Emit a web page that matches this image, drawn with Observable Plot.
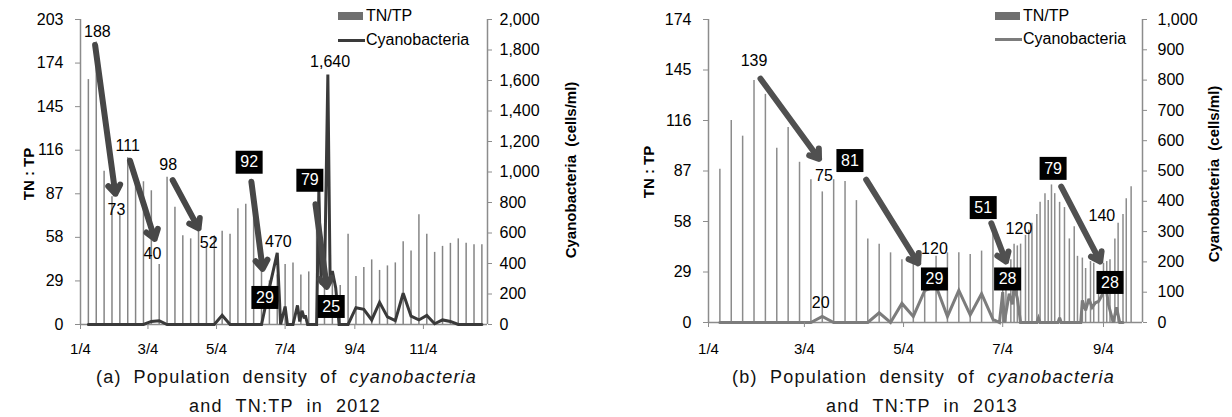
<!DOCTYPE html>
<html><head><meta charset="utf-8">
<script src="https://cdn.jsdelivr.net/npm/d3@7"></script>
<script src="https://cdn.jsdelivr.net/npm/@observablehq/plot@0.6"></script>
<style>
body{margin:0;background:#fff;font-family:"Liberation Sans",Arial,sans-serif;}
#wrap{position:relative;width:1232px;height:417px;overflow:hidden;background:#fff;}
.panel{position:absolute;top:0;}
.ttl{position:absolute;font-weight:bold;font-size:15px;white-space:pre;transform:translate(-50%,-50%) rotate(-90deg);color:#000;}
.leg{position:absolute;font-size:16px;line-height:16px;white-space:nowrap;transform:translateY(-50%);color:#000;}
.sw{position:absolute;}
.cap{position:absolute;font-size:18px;color:#111;white-space:nowrap;letter-spacing:1.2px;}
.cap1{text-align:justify;text-align-last:justify;}
.cap2{text-align:center;word-spacing:7px;}
</style></head><body><div id="wrap"></div>
<script>
// ---------- 2012 ----------
const dates2012 = ["2012-01-11","2012-01-18","2012-01-25","2012-02-01","2012-02-08","2012-02-15","2012-02-22","2012-02-29",
"2012-03-07","2012-03-14","2012-03-21","2012-03-28","2012-04-04","2012-04-11","2012-04-18","2012-04-25",
"2012-05-02","2012-05-09","2012-05-16","2012-05-23","2012-05-30","2012-06-06","2012-06-13","2012-06-20","2012-06-27",
"2012-07-04","2012-07-11","2012-07-18","2012-07-25","2012-08-01","2012-08-08","2012-08-15","2012-08-22","2012-08-29",
"2012-09-05","2012-09-12","2012-09-19","2012-09-26","2012-10-03","2012-10-10","2012-10-17","2012-10-24","2012-10-31",
"2012-11-07","2012-11-14","2012-11-21","2012-11-28","2012-12-05","2012-12-12","2012-12-19","2012-12-26"];
const tntp2012 = [163,188,102,85,73,111,100,95,89,40,98,78,59,57,65,52,59,62,60,77,80,92,38,29,33,
40,41,33,35,79,25,30,26,60,32,38,43,36,39,41,55,49,73,60,48,52,54,57,54,53,53];
const cyanoDates2012 = ["2012-01-11","2012-02-29","2012-03-07","2012-03-14","2012-03-21","2012-05-02","2012-05-09","2012-05-16",
"2012-06-13","2012-06-20","2012-06-27","2012-06-30","2012-07-04","2012-07-06","2012-07-11","2012-07-15","2012-07-17","2012-07-19",
"2012-07-21","2012-07-22","2012-07-24","2012-08-01","2012-08-03","2012-08-05","2012-08-08","2012-08-11","2012-08-13","2012-08-15",
"2012-08-18","2012-08-21","2012-08-29","2012-09-05","2012-09-12","2012-09-19","2012-09-26","2012-10-03","2012-10-10","2012-10-17",
"2012-10-24","2012-10-31","2012-11-07","2012-11-14","2012-11-21","2012-11-28","2012-12-05","2012-12-26"];
const cyano2012 = [0,0,20,25,0,0,60,0,0,240,470,0,118,0,0,125,20,90,40,60,0,0,880,270,260,1640,300,350,240,0,
0,110,100,30,145,50,25,205,55,30,60,5,30,20,0,0];
const xTicks2012 = ["2012-01-04","2012-03-04","2012-05-04","2012-07-04","2012-09-04","2012-11-04"];
const leftTicks2012 = [0,29,58,87,116,145,174,203];
const rightTicks2012 = [0,200,400,600,800,1000,1200,1400,1600,1800,2000];
const arrows2012 = [
  {from:"2012-01-17", v1:186, to:"2012-02-04", v2:87},
  {from:"2012-02-17", v1:109, to:"2012-03-10", v2:57},
  {from:"2012-03-26", v1:96, to:"2012-04-18", v2:64},
  {from:"2012-06-04", v1:95, to:"2012-06-14", v2:37},
  {from:"2012-07-31", v1:80, to:"2012-08-10", v2:25}];
const labels2012 = [
  {d:"2012-01-19", v:195, t:"188"}, {d:"2012-02-05", v:76, t:"73"}, {d:"2012-02-15", v:119, t:"111"},
  {d:"2012-03-08", v:47, t:"40"}, {d:"2012-03-22", v:106, t:"98"}, {d:"2012-04-27", v:54, t:"52"},
  {d:"2012-06-28", v:55, t:"470"}, {d:"2012-08-13", v:175, t:"1,640"}];
const boxes2012 = [
  {d:"2012-06-02", v:108, t:"92"}, {d:"2012-06-16", v:18, t:"29"},
  {d:"2012-07-26", v:96, t:"79"}, {d:"2012-08-14", v:12, t:"25"}];

// ---------- 2013 ----------
const dates2013 = ["2013-01-11","2013-01-18","2013-01-25","2013-02-01","2013-02-08","2013-02-15","2013-02-22","2013-03-01",
"2013-03-08","2013-03-15","2013-03-22","2013-03-29","2013-04-05","2013-04-12","2013-04-19","2013-04-26","2013-05-03","2013-05-10",
"2013-05-17","2013-05-24","2013-05-31","2013-06-07","2013-06-14","2013-06-21","2013-06-28",
"2013-07-04","2013-07-06","2013-07-09","2013-07-11","2013-07-13","2013-07-15","2013-07-18","2013-07-20","2013-07-22","2013-07-25",
"2013-07-27","2013-07-30","2013-08-01","2013-08-03","2013-08-05","2013-08-08","2013-08-11","2013-08-14","2013-08-17","2013-08-19",
"2013-08-22","2013-08-24","2013-08-27","2013-08-29","2013-09-01","2013-09-04","2013-09-06","2013-09-08","2013-09-11","2013-09-13",
"2013-09-16","2013-09-18","2013-09-21"];
const tntp2013 = [88,116,107,139,131,100,112,92,82,75,82,81,70,48,45,40,36,34,29,38,40,40,39,41,51,
30,28,36,45,44,45,50,53,57,62,69,74,70,79,74,69,66,48,55,38,37,31,35,34,28,34,35,36,48,57,62,71,78];
const cyanoDates2013 = ["2013-01-11","2013-03-08","2013-03-15","2013-03-22","2013-04-12","2013-04-19","2013-04-26","2013-05-03",
"2013-05-10","2013-05-17","2013-05-24","2013-05-31","2013-06-07","2013-06-14","2013-06-21","2013-06-28","2013-07-02","2013-07-04",
"2013-07-05","2013-07-08","2013-07-10","2013-07-11","2013-07-13","2013-07-15","2013-07-25","2013-07-26","2013-07-27","2013-08-07",
"2013-08-08","2013-08-09","2013-08-21","2013-08-22","2013-08-24","2013-08-26","2013-08-28","2013-08-30","2013-09-01","2013-09-03",
"2013-09-05","2013-09-07","2013-09-10","2013-09-12","2013-09-14","2013-09-16"];
const cyano2013 = [0,0,20,0,0,32,0,63,20,105,120,20,106,25,95,10,0,100,0,95,60,120,80,0,0,15,0,0,16,0,
0,73,40,78,50,65,70,89,140,60,0,50,0,0];
const xTicks2013 = ["2013-01-04","2013-03-04","2013-05-04","2013-07-04","2013-09-04"];
const leftTicks2013 = [0,29,58,87,116,145,174];
const rightTicks2013 = [0,100,200,300,400,500,600,700,800,900,1000];
const arrows2013 = [
  {from:"2013-02-05", v1:140, to:"2013-03-13", v2:94},
  {from:"2013-04-11", v1:82, to:"2013-05-13", v2:34},
  {from:"2013-06-27", v1:57, to:"2013-07-06", v2:35},
  {from:"2013-08-09", v1:78, to:"2013-09-02", v2:35}];
const labels2013 = [
  {d:"2013-02-01", v:150, t:"139"}, {d:"2013-03-16", v:84, t:"75"}, {d:"2013-03-14", v:11, t:"20"},
  {d:"2013-05-23", v:42.5, t:"120"}, {d:"2013-07-14", v:54, t:"120"}, {d:"2013-09-03", v:61, t:"140"}];
const boxes2013 = [
  {d:"2013-04-01", v:93, t:"81"}, {d:"2013-05-23", v:25, t:"29"}, {d:"2013-06-22", v:66, t:"51"},
  {d:"2013-07-07", v:25, t:"28"}, {d:"2013-08-04", v:88.5, t:"79"}, {d:"2013-09-08", v:23, t:"28"}];

const D = s => new Date(s);
const boxSym = {draw(ctx){ ctx.rect(-13.5, -11.5, 27, 23); }};

function panel(c) {
  const k = c.yMax / c.rMax;
  const bars = c.dates.map((d, i) => ({date: D(d), v: c.tntp[i]}));
  const line = c.cDates.map((d, i) => ({date: D(d), v: c.cyano[i] * k}));
  const x0 = D(c.domain[0]), x1 = D(c.domain[1]);
  const axisCol = "#8c8c8c";
  return Plot.plot({
    width: c.width, height: 360,
    marginLeft: c.ml, marginRight: c.mr, marginTop: 19, marginBottom: c.mb,
    style: {fontFamily: "'Liberation Sans', Arial, sans-serif", fontSize: "16px", color: "#000", background: "transparent"},
    x: {type: "utc", domain: [x0, x1]},
    y: {domain: [0, c.yMax]},
    marks: [
      Plot.ruleX(bars, {x: "date", y1: 0, y2: "v", stroke: c.barCol, strokeWidth: 1.5}),
      Plot.ruleX([x0, x1], {y1: 0, y2: c.yMax, stroke: axisCol, strokeWidth: 1.5}),
      Plot.ruleY([0], {stroke: axisCol, strokeWidth: 1.5}),
      Plot.line(line, {x: "date", y: "v", stroke: c.lineCol, strokeWidth: 3, strokeLinejoin: "miter", strokeMiterlimit: 3}),
      Plot.axisX({ticks: c.xTicks.map(D), tickFormat: d3.utcFormat("%-m/%-d"), tickSize: 5, tickPadding: c.xpad,
        stroke: axisCol, fill: "#000", fontSize: 15, label: null}),
      Plot.axisY({anchor: "left", ticks: c.leftTicks, tickFormat: d => String(d), tickSize: 5, tickPadding: 12,
        stroke: axisCol, fill: "#000", fontSize: 16, label: null}),
      Plot.axisY({anchor: "right", ticks: c.rightTicks.map(v => v * k), tickFormat: d => d3.format(",")(Math.round(d / k)),
        tickSize: 4, tickPadding: c.rpad, stroke: axisCol, fill: "#000", fontSize: 16, label: null}),
      Plot.arrow(c.arrows, {x1: d => D(d.from), y1: "v1", x2: d => D(d.to), y2: "v2",
        stroke: c.arrowCol, strokeWidth: 6, headLength: 2.6, headAngle: 70}),
      Plot.text(c.labels, {x: d => D(d.d), y: "v", text: "t", fill: "#000", fontSize: 16}),
      Plot.dot(c.boxes, {x: d => D(d.d), y: "v", symbol: boxSym, r: 10, fill: "#000", stroke: "none"}),
      Plot.text(c.boxes, {x: d => D(d.d), y: "v", text: "t", fill: "#fff", fontSize: 16})
    ]
  });
}

const wrap = document.getElementById("wrap");
function place(el, left, top) { el.style.position = "absolute"; el.style.left = left + "px"; el.style.top = top + "px"; wrap.appendChild(el); }

const pa = panel({width: 610, ml: 80, mr: 123, mb: 36, xpad: 14, rpad: 8, yMax: 203, rMax: 2000,
  domain: ["2012-01-04", "2012-12-31"], dates: dates2012, tntp: tntp2012, cDates: cyanoDates2012, cyano: cyano2012,
  xTicks: xTicks2012, leftTicks: leftTicks2012, rightTicks: rightTicks2012, arrows: arrows2012, labels: labels2012, boxes: boxes2012,
  barCol: "#858585", lineCol: "#3a3a3a", arrowCol: "#474747"});
place(pa, 0, 0);

const pb = panel({width: 612, ml: 88, mr: 90, mb: 38, xpad: 16, rpad: 11, yMax: 174, rMax: 1000,
  domain: ["2013-01-04", "2013-09-28"], dates: dates2013, tntp: tntp2013, cDates: cyanoDates2013, cyano: cyano2013,
  xTicks: xTicks2013, leftTicks: leftTicks2013, rightTicks: rightTicks2013, arrows: arrows2013, labels: labels2013, boxes: boxes2013,
  barCol: "#8c8c8c", lineCol: "#7c7c7c", arrowCol: "#505050"});
place(pb, 620, 0);

function html(tag, cls, text, css) {
  const e = document.createElement(tag); e.className = cls; if (text != null) e.innerHTML = text;
  Object.assign(e.style, css || {}); wrap.appendChild(e); return e;
}
// axis titles
html("div", "ttl", "TN : TP", {left: "28px", top: "174px"});
html("div", "ttl", "Cyanobacteria  (cells/ml)", {left: "570px", top: "170px"});
html("div", "ttl", "TN : TP", {left: "648px", top: "172px"});
html("div", "ttl", "Cyanobacteria  (cells/ml)", {left: "1213px", top: "174px"});

// legends
function legend(x, y1, y2, barCol, lineCol) {
  html("div", "sw", null, {left: x + "px", top: (y1 - 4) + "px", width: "25px", height: "8px", background: barCol});
  html("div", "leg", "TN/TP", {left: (x + 28) + "px", top: y1 + "px"});
  html("div", "sw", null, {left: x + "px", top: (y2 - 1.5) + "px", width: "27px", height: "3px", background: lineCol});
  html("div", "leg", "Cyanobacteria", {left: (x + 28) + "px", top: y2 + "px"});
}
legend(338, 16, 40, "#6f6f6f", "#3a3a3a");
legend(995, 16, 39, "#6f6f6f", "#7c7c7c");

// captions
html("div", "cap cap1", "(a) Population density of <i>cyanobacteria</i>", {left: "96px", top: "367px", width: "381px"});
html("div", "cap cap2", "and TN:TP in 2012", {left: "135px", top: "396px", width: "300px"});
html("div", "cap cap1", "(b) Population density of <i>cyanobacteria</i>", {left: "732px", top: "367px", width: "383px"});
html("div", "cap cap2", "and TN:TP in 2013", {left: "772px", top: "396px", width: "300px"});
</script></body></html>
